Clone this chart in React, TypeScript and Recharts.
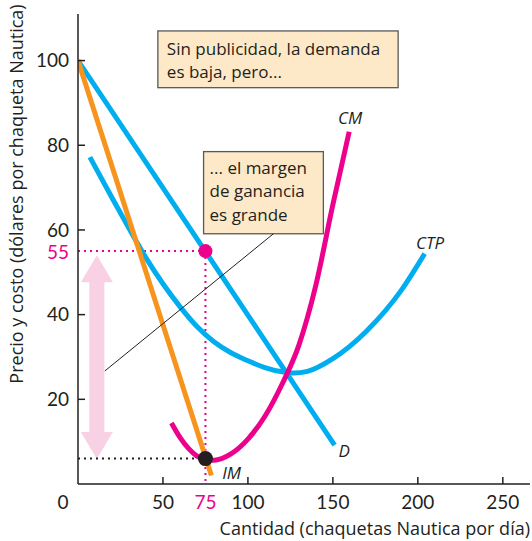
import React from "react";
import {
  ComposedChart,
  Line,
  XAxis,
  YAxis,
  ReferenceLine,
  ReferenceDot,
  ReferenceArea,
} from "recharts";

const FONT = '"Open Sans", sans-serif';
const TICK_FONT = "Lato, sans-serif";
const INK = "#231f20";
const BLUE = "#00aeef";
const ORANGE = "#f7941d";
const MAGENTA = "#ec008c";
const PINK = "#f8d1e4";
const BOX = "#fde9c8";

// ejes
const X_TICKS = [0, 50, 75, 100, 150, 200, 250];
const Y_TICKS = [20, 40, 55, 60, 80, 100];

// demanda (D)
const demandQ = [0, 151];
const demandP = [100, 9.2];

// ingreso marginal (IM)
const mrQ = [0, 78.5];
const mrP = [100, 2];

// costo marginal (CM)
const mcQ = [55, 60, 65, 70, 75, 80, 90, 100, 110, 120, 130, 140, 150, 159.6];
const mcP = [14.4, 11, 8.4, 6.6, 5.8, 5.6, 7.1, 10.6, 16, 23.5, 32.8, 47, 66, 83.2];

// costo total promedio (CTP)
const atcQ = [7, 20, 30, 40, 50, 60, 70, 80, 90, 100, 110, 120, 127, 135, 150, 170, 190, 204];
const atcP = [77.2, 67.6, 60.4, 53.4, 47.3, 41.9, 37.2, 33.6, 31, 29.1, 27.5, 26.5, 26.2, 26.6, 29.6, 36.2, 45.6, 54.4];

const Q_OUT = 75;
const P_OUT = 55;
const MC_OUT = 6;

const rows = (q: number[], p: number[]) => q.map((x, i) => ({ x, y: p[i] }));

function XTick(props: any) {
  const { x, y, payload } = props;
  const v = payload.value;
  const pink = v === Q_OUT;
  return (
    <g>
      {v !== 0 && !pink && <line x1={x} y1={y - 11} x2={x} y2={y - 18} stroke={INK} strokeWidth={1.5} />}
      <text
        x={v === 0 ? x - 15 : x}
        y={y}
        dy="0.72em"
        textAnchor="middle"
        fontSize={19}
        fontFamily={TICK_FONT}
        fill={pink ? MAGENTA : INK}
      >
        {v}
      </text>
    </g>
  );
}

function YTick(props: any) {
  const { x, y, payload } = props;
  const v = payload.value;
  const pink = v === P_OUT;
  return (
    <g>
      {!pink && <line x1={x + 9} y1={y} x2={x + 16} y2={y} stroke={INK} strokeWidth={1.5} />}
      <text
        x={x}
        y={pink ? y + 1.5 : y}
        dy="0.36em"
        textAnchor="end"
        fontSize={19}
        fontFamily={TICK_FONT}
        fill={pink ? MAGENTA : INK}
      >
        {v}
      </text>
    </g>
  );
}

function DoubleArrow(props: any) {
  const { x1, y1, y2 } = props;
  const top = Math.min(y1, y2);
  const bot = Math.max(y1, y2);
  const head = 27;
  const hw = 16;
  const sw = 7.5;
  const c = x1;
  const pts = [
    [c, top],
    [c + hw, top + head],
    [c + sw, top + head],
    [c + sw, bot - head],
    [c + hw, bot - head],
    [c, bot],
    [c - hw, bot - head],
    [c - sw, bot - head],
    [c - sw, top + head],
    [c - hw, top + head],
  ]
    .map((p) => p.join(","))
    .join(" ");
  return <polygon points={pts} fill={PINK} />;
}

function boxShape(lines: string[], padX: number, firstBase: number) {
  return (props: any) => {
    const { x, y, width, height } = props;
    return (
      <g>
        <rect x={x} y={y} width={width} height={height} fill={BOX} stroke="#58595b" strokeWidth={1.3} />
        <text fontSize={17} fontFamily={FONT} fill={INK}>
          {lines.map((l, i) => (
            <tspan key={i} x={x + padX} y={y + firstBase + i * 23.5}>
              {l}
            </tspan>
          ))}
        </text>
      </g>
    );
  };
}

function curveName(name: string) {
  return (props: any) => (
    <text
      x={props.cx}
      y={props.cy}
      dy="0.36em"
      textAnchor="middle"
      fontSize={17}
      fontStyle="italic"
      fontFamily={FONT}
      fill={INK}
    >
      {name}
    </text>
  );
}

export default function App() {
  return (
    <div style={{ position: "absolute", left: 0, top: 0, width: 532, height: 541, background: "#fff", fontFamily: FONT }}>
      <ComposedChart width={532} height={541} margin={{ top: 14, right: 2, bottom: 0, left: 0 }}>
        <XAxis
          type="number"
          dataKey="x"
          domain={[0, 266]}
          ticks={X_TICKS}
          interval={0}
          tickSize={0}
          tickMargin={11}
          tickLine={false}
          tick={<XTick />}
          height={57}
          stroke={INK}
          strokeWidth={1.5}
          allowDataOverflow
          label={(p: any) => (
            <text
              x={p.viewBox.x + p.viewBox.width}
              y={p.viewBox.y + 51}
              textAnchor="end"
              fontSize={18}
              fontFamily={FONT}
              fill={INK}
            >
              Cantidad (chaquetas Nautica por día)
            </text>
          )}
        />
        <YAxis
          type="number"
          dataKey="y"
          domain={[0, 111]}
          ticks={Y_TICKS}
          interval={0}
          tickSize={0}
          tickMargin={9}
          tickLine={false}
          tick={<YTick />}
          width={78}
          stroke={INK}
          strokeWidth={1.5}
          allowDataOverflow
          label={(p: any) => (
            <text
              transform={`translate(${p.viewBox.x + 17}, ${p.viewBox.y + 180}) rotate(-90)`}
              textAnchor="middle"
              dy="0.36em"
              fontSize={18}
              fontFamily={FONT}
              fill={INK}
            >
              Precio y costo (dólares por chaqueta Nautica)
            </text>
          )}
        />

        <ReferenceLine segment={[{ x: 11.1, y: 54 }, { x: 11.1, y: 5.9 }]} shape={<DoubleArrow />} />

        <ReferenceArea
          x1={47}
          x2={188.4}
          y1={93.6}
          y2={107}
          shape={boxShape(["Sin publicidad, la demanda", "es baja, pero..."], 9, 24)}
        />
        <ReferenceArea
          x1={73.9}
          x2={144.4}
          y1={59.1}
          y2={78.5}
          shape={boxShape(["... el margen", "de ganancia", "es grande"], 6, 22)}
        />

        <ReferenceLine segment={[{ x: 0, y: P_OUT }, { x: Q_OUT, y: P_OUT }]} stroke={MAGENTA} strokeWidth={2} strokeDasharray="2 4" />
        <ReferenceLine segment={[{ x: Q_OUT, y: P_OUT }, { x: Q_OUT, y: 0 }]} stroke={MAGENTA} strokeWidth={2} strokeDasharray="2 4" />
        <ReferenceLine segment={[{ x: 0, y: MC_OUT }, { x: Q_OUT, y: MC_OUT }]} stroke={INK} strokeWidth={2} strokeDasharray="2 4" />

        <Line data={rows(atcQ, atcP)} dataKey="y" type="monotone" stroke={BLUE} strokeWidth={5} dot={false} isAnimationActive={false} />
        <Line data={rows(demandQ, demandP)} dataKey="y" type="linear" stroke={BLUE} strokeWidth={5} dot={false} isAnimationActive={false} />
        <Line data={rows(mcQ, mcP)} dataKey="y" type="monotone" stroke={MAGENTA} strokeWidth={5} dot={false} isAnimationActive={false} />
        <Line data={rows(mrQ, mrP)} dataKey="y" type="linear" stroke={ORANGE} strokeWidth={5} dot={false} isAnimationActive={false} />

        <ReferenceLine segment={[{ x: 15.8, y: 26.7 }, { x: 115, y: 59.1 }]} stroke={INK} strokeWidth={1} />

        <ReferenceDot x={Q_OUT} y={P_OUT} r={7} fill={MAGENTA} stroke="none" />
        <ReferenceDot x={Q_OUT} y={MC_OUT} r={7.5} fill={INK} stroke="none" />

        <ReferenceDot x={160.2} y={86.5} shape={curveName("CM")} />
        <ReferenceDot x={207.2} y={57} shape={curveName("CTP")} />
        <ReferenceDot x={156.7} y={7.8} shape={curveName("D")} />
        <ReferenceDot x={90.4} y={2.6} shape={curveName("IM")} />
      </ComposedChart>
    </div>
  );
}
